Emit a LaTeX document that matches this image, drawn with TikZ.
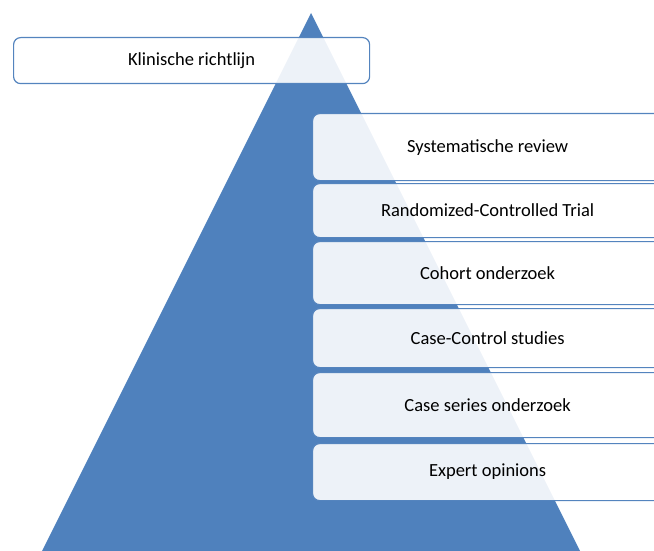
\documentclass[tikz,border=0pt]{standalone}
\usepackage{fontspec}
\setmainfont{Carlito}
\usetikzlibrary{positioning}
\definecolor{pyramidblue}{RGB}{79,129,189}
\definecolor{boxedge}{RGB}{84,132,190}

\begin{document}
\begin{tikzpicture}[x=1pt, y=-1pt,
  level/.style={draw=boxedge, line width=1.2pt, fill=white, fill opacity=0.9,
    text opacity=1, rounded corners=7pt, anchor=north west, inner sep=0pt,
    minimum width=350pt, font=\fontsize{18.5}{21}\selectfont}]
  \clip (0,0) rectangle (654,551);

  % Pyramid
  \fill[pyramidblue] (311,13) -- (580,551) -- (42,551) -- cycle;

  % Guideline on top
  \node[level, minimum width=356pt, minimum height=46pt] (richtlijn) at (13,37) {Klinische richtlijn};

  % Levels of evidence
  \node[level, minimum height=67pt] (sysrev) at (312,113) {Systematische review};
  \node[level, minimum height=54pt] (rct) at (312,183) {Randomized-Controlled Trial};
  \node[level, minimum height=63pt] (cohort) at (312,241) {Cohort onderzoek};
  \node[level, minimum height=59pt] (casecontrol) at (312,308) {Case-Control studies};
  \node[level, minimum height=65pt] (caseseries) at (312,372) {Case series onderzoek};
  \node[level, minimum height=57pt] (expert) at (312,443) {Expert opinions};
\end{tikzpicture}
\end{document}
